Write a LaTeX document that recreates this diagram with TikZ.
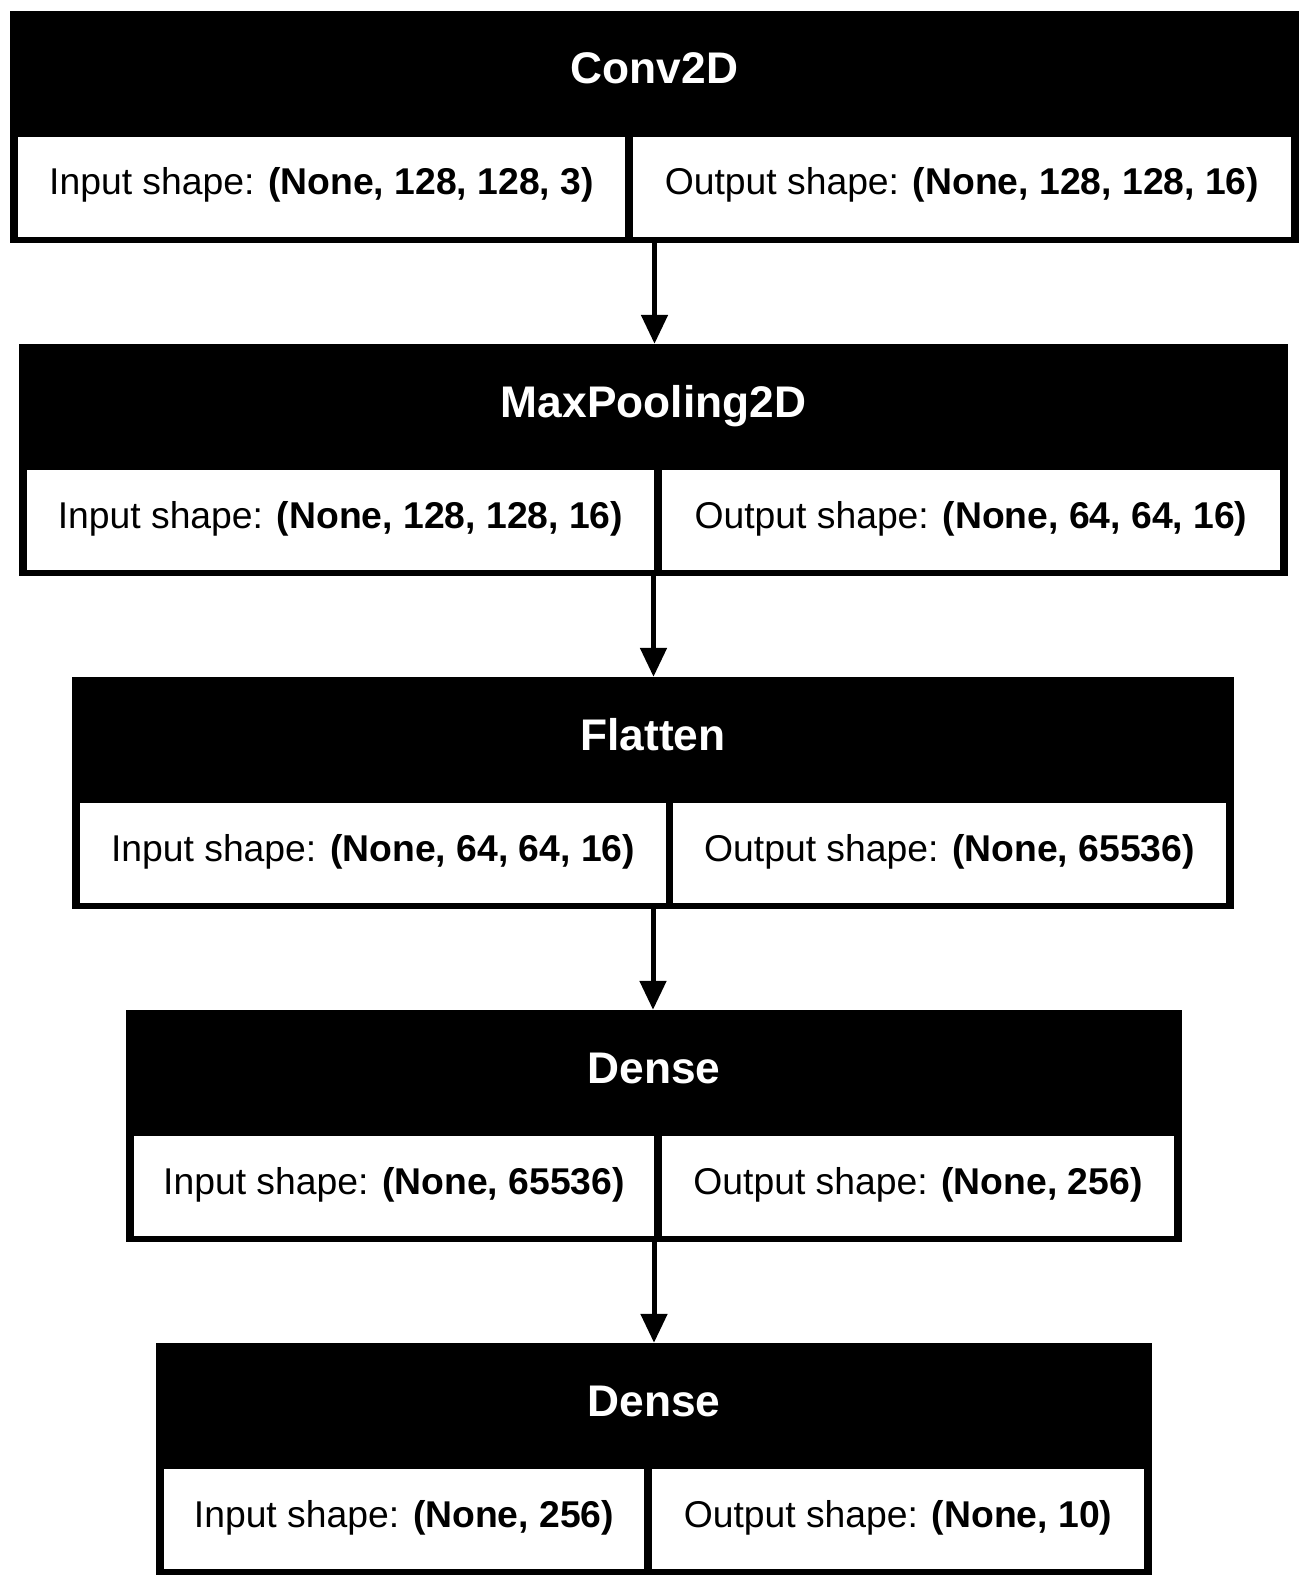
\documentclass[tikz,border=0pt]{standalone}
\usepackage{fontspec}
\setmainfont{Liberation Sans}
\usetikzlibrary{arrows.meta,fit}
\tikzset{
  outerbox/.style={fill=black,draw=none,inner sep=0pt},
  cellbox/.style={fill=white,draw=none,inner sep=0pt},
  titletext/.style={anchor=base,inner sep=0pt,text=white,font=\fontsize{44.3pt}{50pt}\selectfont\bfseries},
  celltext/.style={anchor=base,inner sep=0pt,text=black,font=\fontsize{37.3pt}{44pt}\selectfont},
  flow/.style={line width=5pt,-{Triangle[width=26pt,length=29pt]}}
}
\newcommand\layerblock[9]{%
  \pgfmathsetmacro\lB{#2+232}%
  \pgfmathsetmacro\cT{#2+126}%
  \pgfmathsetmacro\cB{#2+226}%
  \pgfmathsetmacro\cL{#3+8}%
  \pgfmathsetmacro\cR{#4-8}%
  \pgfmathsetmacro\hY{#2+73}%
  \pgfmathsetmacro\tY{#2+184}%
  \pgfmathsetmacro\mX{(#3+#4)/2}%
  \pgfmathsetmacro\iX{(\cL+#5)/2}%
  \pgfmathsetmacro\oX{(#6+\cR)/2}%
  \node[outerbox, fit={(#3,#2) (#4,\lB)}] (#1) {};
  \node[cellbox, fit={(\cL,\cT) (#5,\cB)}] (#1in) {};
  \node[cellbox, fit={(#6,\cT) (\cR,\cB)}] (#1out) {};
  \node[titletext] (#1title) at (\mX,\hY) {#7};
  \node[celltext] (#1intext) at (\iX,\tY) {Input shape: \textbf{#8}};
  \node[celltext] (#1outtext) at (\oX,\tY) {Output shape: \textbf{#9}};
}
\begin{document}
\begin{tikzpicture}[x=1pt,y=-1pt]
\fill[white] (0,0) rectangle (1308,1589);
\useasboundingbox (0,0) rectangle (1308,1589);
\layerblock{b1}{11}{10}{1299}{625}{633}{Conv2D}{(None, 128, 128, 3)}{(None, 128, 128, 16)}
\layerblock{b2}{344}{19}{1288}{654}{662}{MaxPooling2D}{(None, 128, 128, 16)}{(None, 64, 64, 16)}
\layerblock{b3}{677}{72}{1234}{666}{673}{Flatten}{(None, 64, 64, 16)}{(None, 65536)}
\layerblock{b4}{1010}{126}{1182}{654}{662}{Dense}{(None, 65536)}{(None, 256)}
\layerblock{b5}{1343}{156}{1152}{644}{652}{Dense}{(None, 256)}{(None, 10)}
\draw[flow] (b1.south) -- (b1.south |- b2.north);
\draw[flow] (b2.south) -- (b2.south |- b3.north);
\draw[flow] (b3.south) -- (b3.south |- b4.north);
\draw[flow] (b4.south) -- (b4.south |- b5.north);
\end{tikzpicture}
\end{document}
